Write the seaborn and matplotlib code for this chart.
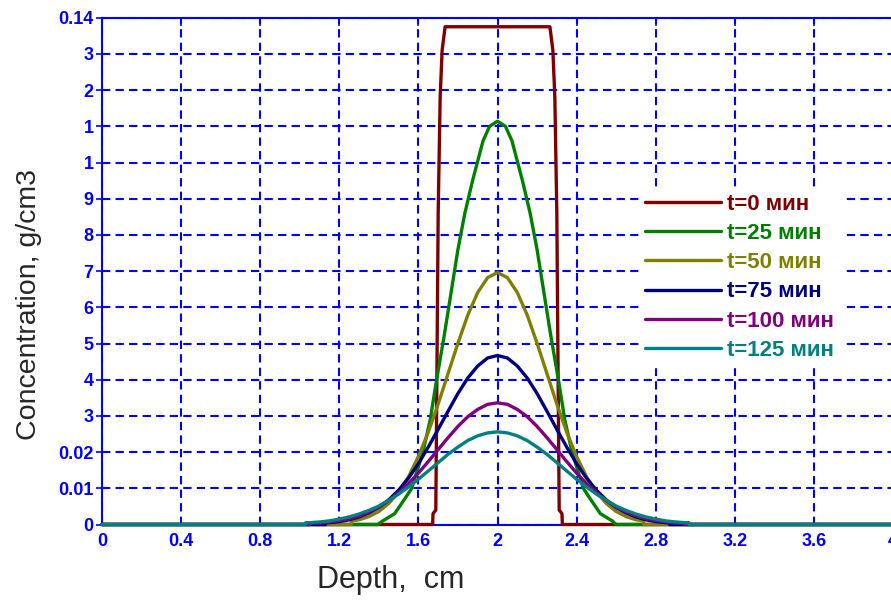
import numpy as np
import pandas as pd
import matplotlib
matplotlib.use("Agg")
import matplotlib.pyplot as plt
import seaborn as sns

# ---- data ----
labels = ['t=0 мин', 't=25 мин', 't=50 мин', 't=75 мин', 't=100 мин', 't=125 мин']
colors = ['#800000', '#008000', '#808000', '#000080', '#800080', '#008080']

x_t0 = [0, 1.672, 1.674, 1.688, 1.692, 1.700, 1.710, 1.720, 1.735,
        2.265, 2.280, 2.290, 2.300, 2.308, 2.312, 2.326, 2.328, 4]
c_t0 = [0, 0, 0.003, 0.004, 0.030, 0.086, 0.118, 0.131, 0.1375,
        0.1375, 0.131, 0.118, 0.086, 0.030, 0.004, 0.003, 0, 0]

x_t25 = [0, 1.395, 1.42, 1.48, 1.53, 1.566, 1.623, 1.66, 1.692, 1.73, 1.768, 1.80, 1.835, 1.874, 1.927, 1.96, 2.0,
         2.04, 2.073, 2.126, 2.165, 2.20, 2.232, 2.27, 2.308, 2.34, 2.377, 2.434, 2.47, 2.52, 2.58, 2.60, 4]
c_t25 = [0, 0, 0.001, 0.003, 0.007, 0.010, 0.020, 0.029, 0.040, 0.052, 0.065, 0.076, 0.086, 0.095, 0.106, 0.110, 0.1114,
         0.110, 0.106, 0.095, 0.086, 0.076, 0.065, 0.052, 0.040, 0.029, 0.020, 0.010, 0.007, 0.003, 0.001, 0, 0]

x_t50 = [0, 1.26, 1.262, 1.30, 1.35, 1.40, 1.45, 1.50, 1.55, 1.60, 1.65, 1.70, 1.75, 1.80, 1.85, 1.90, 1.95, 2.0,
         2.05, 2.10, 2.15, 2.20, 2.25, 2.30, 2.35, 2.40, 2.45, 2.50, 2.55, 2.60, 2.65, 2.70, 2.738, 2.74, 4]
c_t50 = [0, 0, 0.0010, 0.0013, 0.0022, 0.0036, 0.0058, 0.0090, 0.0132, 0.0188, 0.0255, 0.0333, 0.0417, 0.0501, 0.0579,
         0.0641, 0.0682, 0.0696,
         0.0682, 0.0641, 0.0579, 0.0501, 0.0417, 0.0333, 0.0255, 0.0188, 0.0132, 0.0090, 0.0058, 0.0036, 0.0022, 0.0013,
         0.0010, 0, 0]

x_t75 = [0, 1.13, 1.132, 1.15, 1.20, 1.25, 1.30, 1.35, 1.40, 1.45, 1.50, 1.55, 1.60, 1.65, 1.70, 1.75, 1.80, 1.85,
         1.90, 1.95, 2.0,
         2.05, 2.10, 2.15, 2.20, 2.25, 2.30, 2.35, 2.40, 2.45, 2.50, 2.55, 2.60, 2.65, 2.70, 2.75, 2.80, 2.85,
         2.868, 2.87, 4]
c_t75 = [0, 0, 0.0005, 0.0005, 0.0008, 0.0013, 0.0021, 0.0032, 0.0047, 0.0068, 0.0095, 0.0128, 0.0168, 0.0214,
         0.0263, 0.0313, 0.0362, 0.0405, 0.0438, 0.0460, 0.0467,
         0.0460, 0.0438, 0.0405, 0.0362, 0.0313, 0.0263, 0.0214, 0.0168, 0.0128, 0.0095, 0.0068, 0.0047, 0.0032,
         0.0021, 0.0013, 0.0008, 0.0005, 0.0005, 0, 0]

x_t100 = [0, 1.05, 1.052, 1.10, 1.15, 1.20, 1.25, 1.30, 1.35, 1.40, 1.45, 1.50, 1.55, 1.60, 1.65, 1.70, 1.75, 1.80,
          1.85, 1.90, 1.95, 2.0,
          2.05, 2.10, 2.15, 2.20, 2.25, 2.30, 2.35, 2.40, 2.45, 2.50, 2.55, 2.60, 2.65, 2.70, 2.75, 2.80, 2.85,
          2.90, 2.948, 2.95, 4]
c_t100 = [0, 0, 0.0004, 0.0004, 0.0007, 0.0011, 0.0016, 0.0024, 0.0035, 0.0049, 0.0066, 0.0088, 0.0113, 0.0142,
          0.0174, 0.0207, 0.0240, 0.0271, 0.0298, 0.0318, 0.0332, 0.0336,
          0.0332, 0.0318, 0.0298, 0.0271, 0.0240, 0.0207, 0.0174, 0.0142, 0.0113, 0.0088, 0.0066, 0.0049, 0.0035,
          0.0024, 0.0016, 0.0011, 0.0007, 0.0004, 0.0004, 0, 0]

x_t125 = [0, 1.028, 1.03, 1.05, 1.10, 1.15, 1.20, 1.25, 1.30, 1.35, 1.40, 1.45, 1.50, 1.55, 1.60, 1.65, 1.70, 1.75,
          1.80, 1.85, 1.90, 1.95, 2.0,
          2.05, 2.10, 2.15, 2.20, 2.25, 2.30, 2.35, 2.40, 2.45, 2.50, 2.55, 2.60, 2.65, 2.70, 2.75, 2.80, 2.85,
          2.90, 2.95, 2.968, 2.97, 4]
c_t125 = [0, 0, 0.0005, 0.0005, 0.0007, 0.0010, 0.0015, 0.0021, 0.0029, 0.0039, 0.0051, 0.0067, 0.0084, 0.0104,
          0.0125, 0.0148, 0.0171, 0.0194, 0.0214, 0.0232, 0.0245, 0.0253, 0.0256,
          0.0253, 0.0245, 0.0232, 0.0214, 0.0194, 0.0171, 0.0148, 0.0125, 0.0104, 0.0084, 0.0067, 0.0051, 0.0039,
          0.0029, 0.0021, 0.0015, 0.0010, 0.0007, 0.0005, 0.0005, 0, 0]

x_ticks = [0, 0.4, 0.8, 1.2, 1.6, 2.0, 2.4, 2.8, 3.2, 3.6, 4.0]
x_ticklabels = ['0', '0.4', '0.8', '1.2', '1.6', '2', '2.4', '2.8', '3.2', '3.6', '4']
y_ticks = [0, 0.01, 0.02, 0.03, 0.04, 0.05, 0.06, 0.07, 0.08, 0.09, 0.10, 0.11, 0.12, 0.13, 0.14]
# the original tick labels are partly wiped out by the axis title
y_ticklabels = ['0', '0.01', '0.02', '3', '4', '5', '6', '7', '8', '9', '1', '1', '2', '3', '0.14']

xs = [x_t0, x_t25, x_t50, x_t75, x_t100, x_t125]
cs = [c_t0, c_t25, c_t50, c_t75, c_t100, c_t125]
df = pd.concat([pd.DataFrame({'depth': x, 'conc': c, 'time': lab})
                for x, c, lab in zip(xs, cs, labels)], ignore_index=True)

# ---- plot ----
sns.set_theme(style='white')
plt.rcParams['font.family'] = ['Liberation Sans', 'DejaVu Sans']

blue = '#0000FF'
fig = plt.figure(figsize=(8.91, 6.03), dpi=100)
ax = fig.add_axes([102 / 891, 1 - 524.5 / 603, 791 / 891, 506.8 / 603])

sns.lineplot(data=df, x='depth', y='conc', hue='time', hue_order=labels,
             palette=colors, sort=False, estimator=None, linewidth=2.4,
             ax=ax, legend=False, clip_on=False, zorder=3)

ax.set_xlim(0, 4)
ax.set_ylim(0, 0.14)
ax.set_xticks(x_ticks)
ax.set_xticklabels(x_ticklabels)
ax.set_yticks(y_ticks)
ax.set_yticklabels(y_ticklabels)
ax.set_xlabel('')
ax.set_ylabel('')

ax.grid(True, color=blue, linestyle=(0, (4, 2.5)), linewidth=1.5)
ax.set_axisbelow(True)
for s in ax.spines.values():
    s.set_color(blue)
    s.set_linewidth(1.5)
    s.set_visible(True)

ax.tick_params(axis='x', which='both', bottom=True, top=True, direction='in',
               length=6, width=1.2, color=blue, labelcolor=blue, labelsize=13, pad=6)
ax.tick_params(axis='y', which='both', left=True, direction='inout',
               length=8, width=1.2, color=blue, labelcolor=blue, labelsize=13, pad=2)
for lab in ax.get_xticklabels() + ax.get_yticklabels():
    lab.set_fontweight('bold')

# legend with coloured labels on an opaque white box
handles = [plt.Line2D([], [], color=c, linewidth=2.4) for c in colors]
leg = ax.legend(handles, labels, loc='upper left', bbox_to_anchor=(638.5 / 891, 1 - 187 / 603),
                bbox_transform=fig.transFigure, frameon=True, fancybox=False,
                facecolor='white', edgecolor='white', framealpha=1,
                handlelength=3.4, handletextpad=0.3, labelspacing=0.37,
                borderpad=0.3, borderaxespad=0, prop={'size': 16, 'weight': 'bold'},
                labelcolor='linecolor')
leg.set_zorder(4)

fig.text(391 / 891, 1 - 580 / 603, 'Depth,  cm', fontsize=22, ha='center', va='center')
fig.text(29 / 891, 1 - 305 / 603, 'Concentration, g/cm3', fontsize=20.5,
         rotation=90, ha='center', va='center')

fig.savefig('out.png', dpi=100)
